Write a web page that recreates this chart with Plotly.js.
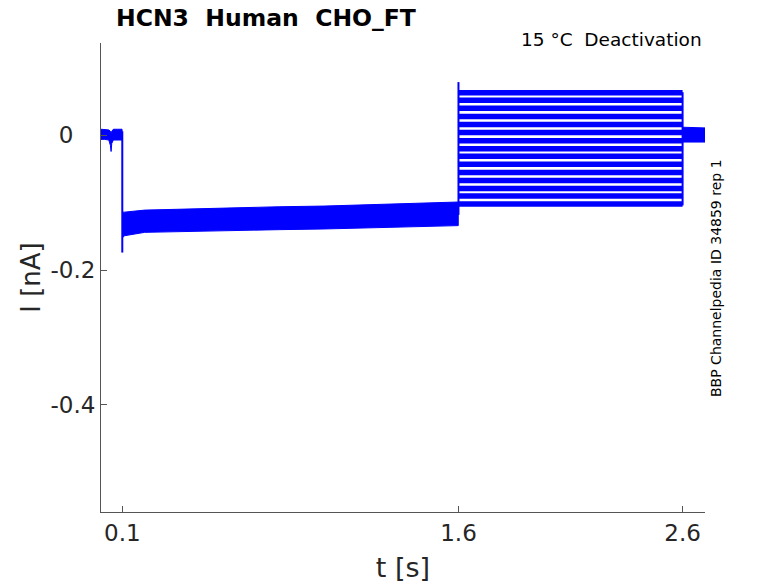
<!DOCTYPE html>
<html>
<head>
<meta charset="utf-8">
<script src="https://cdn.plot.ly/plotly-3.0.1.min.js"></script>
<style>html,body{margin:0;padding:0;background:#fff;}#plot{width:778px;height:583px;}</style>
</head>
<body>
<div id="plot"></div>
<script>
// Holding period (0 - 0.1 s): noise envelope of all sweeps
const holdT  = [0.005, 0.02, 0.04, 0.047, 0.05, 0.053, 0.06, 0.08, 0.099];
const holdHi = [0.009, 0.009, 0.008, 0.006, 0.003, 0.006, 0.009, 0.009, 0.009];
const holdLo = [-0.006, -0.006, -0.007, -0.015, -0.024, -0.012, -0.007, -0.007, -0.007];

// Activation step (0.1 - 1.6 s): envelope of overlapping sweeps
const actT  = [0.101, 0.11, 0.2, 0.4, 0.6, 0.8, 1.0, 1.2, 1.4, 1.599];
const actHi = [-0.114, -0.114, -0.111, -0.109, -0.108, -0.106, -0.105, -0.103, -0.102, -0.099];
const actLo = [-0.152, -0.149, -0.144, -0.143, -0.141, -0.140, -0.139, -0.137, -0.136, -0.134];

// Capacitive transients
const onsetT = [0.1, 0.1];
const onsetV = [0.006, -0.174];
const tailOnT = [1.6, 1.6];
const tailOnV = [-0.118, 0.079];
const tailOffT = [2.6, 2.6];
const tailOffV = [-0.104, 0.064];

// Tail currents (1.6 - 2.6 s), one per sweep
const tailT = [1.6, 2.6];
const tailLevels = [0.063, 0.052, 0.040, 0.028, 0.016, 0.004, -0.008, -0.020, -0.031,
                    -0.043, -0.055, -0.067, -0.079, -0.090, -0.102];

// Return to holding (2.6 - 2.7 s)
const postT  = [2.6, 2.65, 2.70];
const postHi = [0.012, 0.011, 0.011];
const postLo = [-0.010, -0.010, -0.010];

const blue = '#0000ff';
const traces = [];
function band(t, hi, lo) {
  traces.push({
    x: t.concat(t.slice().reverse()),
    y: hi.concat(lo.slice().reverse()),
    mode: 'lines', fill: 'toself', fillcolor: blue,
    line: {color: blue, width: 1}, hoverinfo: 'skip', showlegend: false
  });
}
band(holdT, holdHi, holdLo);
band(actT, actHi, actLo);
band(postT, postHi, postLo);
tailLevels.forEach(v => {
  traces.push({x: tailT, y: tailT.map(() => v), mode: 'lines',
    line: {color: blue, width: 5.5}, showlegend: false});
});
[[onsetT, onsetV], [tailOnT, tailOnV], [tailOffT, tailOffV]].forEach(p => {
  traces.push({x: p[0], y: p[1], mode: 'lines', line: {color: blue, width: 2}, showlegend: false});
});

const txt = '#262626';
const font = 'DejaVu Sans, sans-serif';
const layout = {
  width: 778, height: 583,
  margin: {l: 101, r: 73, t: 43, b: 71},
  paper_bgcolor: '#fff', plot_bgcolor: '#fff',
  showlegend: false,
  font: {family: font, color: txt},
  xaxis: {
    range: [0.005, 2.70], showgrid: false, zeroline: false,
    showline: true, linecolor: '#555', linewidth: 1, mirror: false,
    ticks: 'inside', ticklen: 6, tickcolor: '#555',
    tickvals: [0.1, 1.6, 2.6], ticktext: ['0.1', '1.6', '2.6'],
    tickfont: {size: 23, color: txt, family: font},
    title: {text: 't [s]', font: {size: 27, color: txt, family: font}, standoff: 14}
  },
  yaxis: {
    range: [-0.559, 0.137], showgrid: false, zeroline: false,
    showline: true, linecolor: '#555', linewidth: 1, mirror: false,
    ticks: 'inside', ticklen: 6, tickcolor: '#555',
    tickvals: [-0.4, -0.2, 0], ticktext: ['-0.4', '-0.2', '0\u00a0\u00a0\u00a0'],
    tickfont: {size: 23, color: txt, family: font},
    title: {text: 'I [nA]', font: {size: 26, color: txt, family: font}, standoff: 2}
  },
  annotations: [
    {text: '<b>HCN3  Human  CHO_FT</b>', xref: 'paper', yref: 'paper',
     x: (114 - 101) / 604, y: (512 - 18) / 469, xanchor: 'left', yanchor: 'middle',
     showarrow: false, font: {size: 23.5, color: '#000', family: font}},
    {text: '15 °C  Deactivation', xref: 'paper', yref: 'paper',
     x: (704 - 101) / 604, y: (512 - 40) / 469, xanchor: 'right', yanchor: 'middle',
     showarrow: false, font: {size: 18.5, color: '#000', family: font}},
    {text: 'BBP Channelpedia ID 34859 rep 1', xref: 'paper', yref: 'paper',
     x: (716 - 101) / 604, y: (512 - 278) / 469, xanchor: 'center', yanchor: 'middle',
     textangle: -90, showarrow: false, font: {size: 14, color: '#000', family: font}}
  ]
};
Plotly.newPlot('plot', traces, layout, {staticPlot: true, displayModeBar: false});
</script>
</body>
</html>
